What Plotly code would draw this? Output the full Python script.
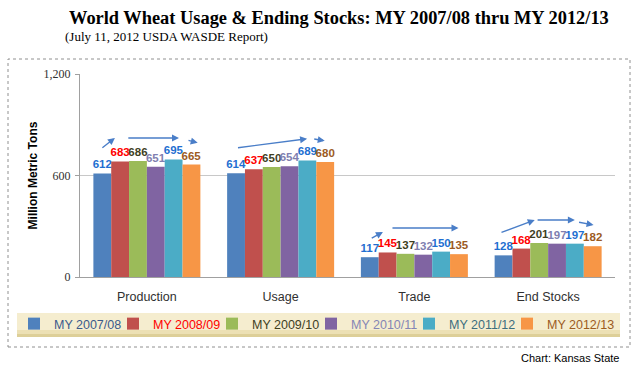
import plotly.graph_objects as go

categories = ["Production", "Usage", "Trade", "End Stocks"]
years = ["MY 2007/08", "MY 2008/09", "MY 2009/10", "MY 2010/11", "MY 2011/12", "MY 2012/13"]
my_2007_08 = [612, 614, 117, 128]
my_2008_09 = [683, 637, 145, 168]
my_2009_10 = [686, 650, 137, 201]
my_2010_11 = [651, 654, 132, 197]
my_2011_12 = [695, 689, 150, 197]
my_2012_13 = [665, 680, 135, 182]
series = [my_2007_08, my_2008_09, my_2009_10, my_2010_11, my_2011_12, my_2012_13]
y_ticks = [0, 600, 1200]

bar_colors = ["#4F81BD", "#C0504D", "#9BBB59", "#8064A2", "#4BACC6", "#F79646"]
label_colors = ["#1F6FD1", "#FF0000", "#3F3F1F", "#7F7FB0", "#1F6FD1", "#9C5B1F"]
legend_colors = ["#3B5A8C", "#FF0000", "#3F3F1F", "#8585B5", "#3D6E7E", "#9C5B1F"]
legend_symbol_x = [34, 133, 232, 331, 429, 527]   # pixel centre of each legend swatch

# plot area in pixels
L, R, T, B = 80, 615, 74, 277
W, H = 634, 372

def px(xp):
    return (xp - L) / (R - L)

def py(yp):
    return (B - yp) / (B - T)

fig = go.Figure()
legend_layouts = {}
for k, (name, vals, bc, lc, gc) in enumerate(zip(years, series, bar_colors, label_colors, legend_colors)):
    lg = "legend" if k == 0 else f"legend{k + 1}"
    fig.add_trace(go.Bar(
        x=categories, y=vals,
        name=f"<span style='color:{gc}'>{name}</span>",
        legend=lg,
        marker=dict(color=bc, line=dict(width=0)),
        text=[str(v) for v in vals],
        textposition="outside",
        textfont=dict(family="Liberation Sans", size=11.5, color=lc, weight="bold"),
        cliponaxis=False,
        constraintext="none",
    ))
    legend_layouts[lg] = dict(
        orientation="h", xref="container", yref="container",
        x=(legend_symbol_x[k] - 20) / W, y=1 - 324 / H, xanchor="left", yanchor="middle",
        bgcolor="rgba(0,0,0,0)", font=dict(family="Liberation Sans", size=12.5),
        itemwidth=30,
    )

# trend arrows (category index, x offset tail, y tail, x offset head, y head)
arrows = [
    (0, -0.344, 757, -0.239, 822), (0, -0.15, 822, 0.24, 822), (0, 0.30, 810, 0.38, 793),
    (1, -0.33, 763, 0.198, 817), (1, 0.24, 817, 0.33, 805),
    (2, -0.33, 225, -0.235, 266), (2, -0.175, 290, 0.33, 290),
    (3, -0.36, 260, -0.10, 337), (3, -0.09, 337, 0.20, 337), (3, 0.22, 325, 0.34, 308),
]
annotations = []
for c, x0, y0, x1, y1 in arrows:
    annotations.append(dict(
        x=c + x1, y=y1, ax=c + x0, ay=y0, xref="x", yref="y", axref="x", ayref="y",
        text="", showarrow=True, arrowhead=2, arrowsize=1, arrowwidth=1.4,
        arrowcolor="#4A7EC8", standoff=0, startstandoff=0,
    ))

annotations += [
    dict(text="<b>World Wheat Usage & Ending Stocks: MY 2007/08 thru MY 2012/13</b>",
         x=px(339), y=py(18), xref="paper", yref="paper", showarrow=False,
         xanchor="center", yanchor="middle",
         font=dict(family="Liberation Serif", size=18.4, color="#000000")),
    dict(text="(July 11, 2012 USDA WASDE Report)",
         x=px(63), y=py(36), xref="paper", yref="paper", showarrow=False,
         xanchor="left", yanchor="middle",
         font=dict(family="Liberation Serif", size=13, color="#000000")),
    dict(text="Chart: Kansas State",
         x=px(621), y=py(358), xref="paper", yref="paper", showarrow=False,
         xanchor="right", yanchor="middle",
         font=dict(family="Liberation Sans", size=11, color="#000000")),
]

shapes = [
    dict(type="rect", xref="paper", yref="paper",
         x0=px(8), x1=px(630), y0=py(347), y1=py(59),
         line=dict(color="#909090", width=1, dash="dot"), fillcolor="rgba(0,0,0,0)", layer="below"),
    dict(type="rect", xref="paper", yref="paper",
         x0=px(17), x1=px(620), y0=py(337), y1=py(313),
         line=dict(width=0), fillcolor="#F5EDCF", layer="below"),
    dict(type="rect", xref="paper", yref="paper",
         x0=px(17), x1=px(620), y0=py(337), y1=py(330),
         line=dict(width=0), fillcolor="#ECE0B4", layer="below"),
    dict(type="rect", xref="paper", yref="paper",
         x0=px(17), x1=px(620), y0=py(337), y1=py(334),
         line=dict(width=0), fillcolor="#DDCF98", layer="below"),
]

fig.update_layout(
    width=W, height=H,
    margin=dict(l=L, r=W - R, t=T, b=H - B, autoexpand=False),
    paper_bgcolor="white", plot_bgcolor="white",
    barmode="group", bargap=0.2, bargroupgap=0,
    showlegend=True,
    annotations=annotations,
    shapes=shapes,
    xaxis=dict(showgrid=False, showline=True, linecolor="#A0A0A0", linewidth=1,
               ticks="", ticklabelstandoff=8,
               tickfont=dict(family="Liberation Sans", size=12.5, color="#303030")),
    yaxis=dict(range=[0, 1200], tickvals=y_ticks, tickformat=",", showgrid=True,
               gridcolor="#C8C8C8", gridwidth=1, showline=True, linecolor="#A0A0A0",
               ticks="outside", ticklen=4, tickcolor="#A0A0A0", zeroline=False,
               ticklabelstandoff=2,
               tickfont=dict(family="Liberation Serif", size=12, color="#303030"),
               title=dict(text="<b>Million Metric Tons</b>", standoff=3,
                          font=dict(family="Liberation Sans", size=12, color="#000000"))),
)
fig.update_layout(**legend_layouts)

fig.write_html("out.html", config={"displayModeBar": False},
               post_script="document.body.style.margin='0';")
